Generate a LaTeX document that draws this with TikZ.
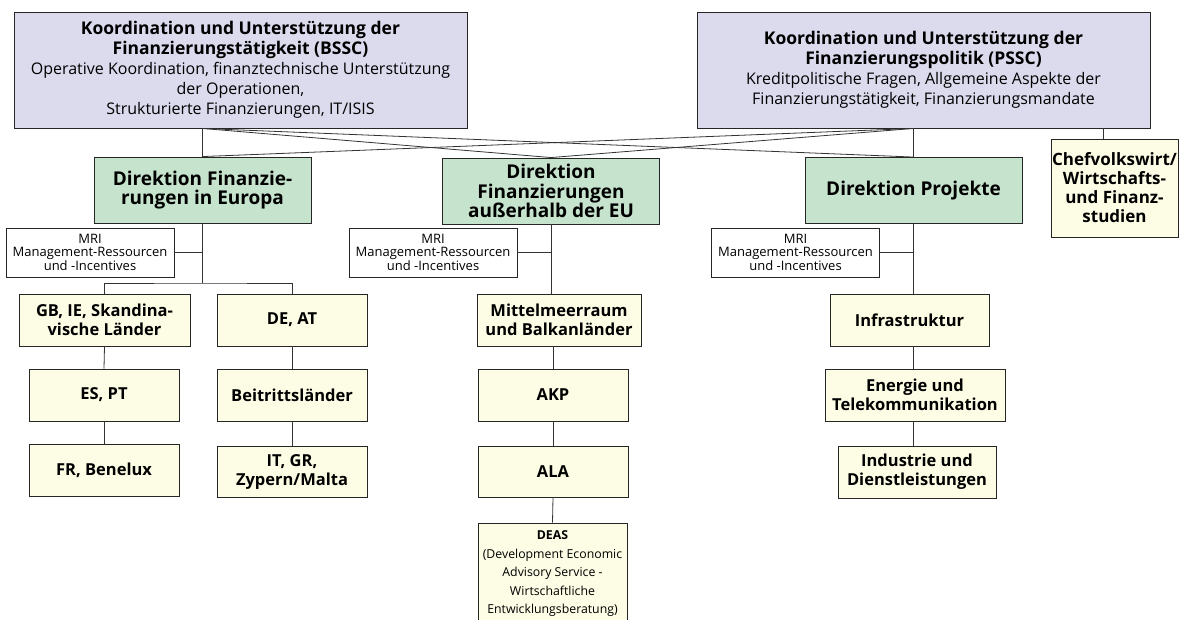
\documentclass[tikz,border=0pt]{standalone}
\usepackage{fontspec}
\setmainfont{Open Sans}

\definecolor{lavender}{HTML}{DCDBEE}
\definecolor{dirgreen}{HTML}{C6E3CD}
\definecolor{unityellow}{HTML}{FDFCE4}

\tikzset{
  box/.style={draw=black!85, line width=0.9pt, align=center, inner sep=0pt},
  topbox/.style={box, fill=lavender, minimum width=453pt, minimum height=116pt, font=\fontsize{16}{20}\selectfont},
  dirbox/.style={box, fill=dirgreen, minimum width=217pt, minimum height=66pt, font=\bfseries\fontsize{19}{19.5}\selectfont},
  unitbox/.style={box, fill=unityellow, minimum width=150pt, minimum height=52pt, font=\bfseries\fontsize{16.5}{19}\selectfont},
  mribox/.style={box, fill=white, minimum width=168pt, minimum height=49pt, font=\fontsize{13}{12.7}\selectfont},
  link/.style={draw=black!80, line width=0.8pt},
}

\begin{document}
\begin{tikzpicture}[x=1pt, y=-1pt]
\clip (0,0) rectangle (1183,619); % page

% top level
\node[topbox] (bssc) at (240.5,70) {\textbf{\fontsize{17.5}{19}\selectfont Koordination und Unterstützung der}\\\textbf{\fontsize{17.5}{19}\selectfont Finanzierungstätigkeit (BSSC)}\\Operative Koordination, finanztechnische Unterstützung\\der Operationen,\\Strukturierte Finanzierungen, IT/ISIS};
\node[topbox] (pssc) at (923.5,70) {\textbf{\fontsize{17.5}{19}\selectfont Koordination und Unterstützung der}\\\textbf{\fontsize{17.5}{19}\selectfont Finanzierungspolitik (PSSC)}\\Kreditpolitische Fragen, Allgemeine Aspekte der\\Finanzierungstätigkeit, Finanzierungsmandate};
\node[unitbox, minimum width=127pt, minimum height=98pt, font=\bfseries\fontsize{17}{19}\selectfont] (chef) at (1114.5,188) {Chefvolkswirt/\\Wirtschafts-\\und Finanz-\\studien};

% directorates
\node[dirbox] (direu) at (202.5,190) {Direktion Finanzie-\\rungen in Europa};
\node[dirbox] (dirext) at (551,191) {Direktion\\Finanzierungen\\außerhalb der EU};
\node[dirbox] (dirproj) at (913.5,190.5) {Direktion Projekte};

% MRI boxes
\node[mribox] (mrieu) at (90,252.5) {MRI\\Management-Ressourcen\\und -Incentives};
\node[mribox] (mriext) at (433,252.5) {MRI\\Management-Ressourcen\\und -Incentives};
\node[mribox] (mriproj) at (795.5,252.5) {MRI\\Management-Ressourcen\\und -Incentives};

% Europe
\node[unitbox, minimum width=171pt] (gb) at (104.5,320) {GB, IE, Skandina-\\vische Länder};
\node[unitbox] (deat) at (292,320) {DE, AT};
\node[unitbox] (espt) at (104,395) {ES, PT};
\node[unitbox] (beitr) at (292,395) {Beitrittsländer};
\node[unitbox] (frbx) at (104,470) {FR, Benelux};
\node[unitbox, minimum height=51pt] (itgr) at (292,471.5) {IT, GR,\\Zypern/Malta};

% outside EU
\node[unitbox, minimum width=164pt] (mittel) at (559,320) {Mittelmeerraum\\und Balkanländer};
\node[unitbox] (akp) at (553,395) {AKP};
\node[unitbox, minimum height=51pt] (ala) at (553,471.5) {ALA};
\node[unitbox, minimum width=149pt, minimum height=102pt, font=\fontsize{12.3}{18.5}\selectfont] (deas) at (552.5,574) {\textbf{DEAS}\\(Development Economic\\Advisory Service -\\Wirtschaftliche\\Entwicklungsberatung)};

% projects
\node[unitbox, minimum width=159pt] (infra) at (909.5,320) {Infrastruktur};
\node[unitbox, minimum width=180pt] (energie) at (915,395) {Energie und\\Telekommunikation};
\node[unitbox, minimum width=158pt] (industrie) at (917,472) {Industrie und\\Dienstleistungen};

% top connectors
\coordinate (bsscfoot) at (bssc.south -| direu.north);
\coordinate (psscfoot) at (pssc.south -| dirproj.north);
\foreach \d in {direu, dirext, dirproj}{
  \draw[link] (bsscfoot) -- (\d.north);
  \draw[link] (psscfoot) -- (\d.north);
}
\draw[link] ([xshift=-11.5pt]chef.north) -- ([xshift=-11.5pt]chef.north |- pssc.south); % chief economist

% Europe tree
\coordinate (fork) at (202.5,283);
\draw[link] (direu.south) -- (fork);
\draw[link] (mrieu.east) -- (mrieu.east -| fork);
\draw[link] (gb.north) |- (fork) -| (deat.north);
\draw[link] (gb.south) -- (espt.north);
\draw[link] (espt.south) -- (frbx.north);
\draw[link] (deat.south) -- (beitr.north);
\draw[link] (beitr.south) -- (itgr.north);

% outside EU tree
\draw[link] (dirext.south) -- (dirext.south |- mittel.north);
\draw[link] (mriext.east) -- (mriext.east -| dirext.south);
\draw[link] (akp.north |- mittel.south) -- (akp.north);
\draw[link] (akp.south) -- (ala.north);
\draw[link] (ala.south) -- (deas.north);

% projects tree
\draw[link] (dirproj.south) -- (dirproj.south |- infra.north);
\draw[link] (mriproj.east) -- (mriproj.east -| dirproj.south);
\draw[link] (infra.south -| dirproj.south) -- (energie.north -| dirproj.south);
\draw[link] (energie.south -| dirproj.south) -- (industrie.north -| dirproj.south);
\end{tikzpicture}
\end{document}
